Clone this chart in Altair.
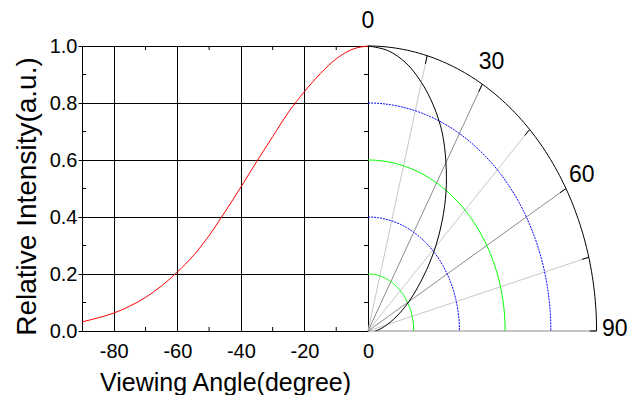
import altair as alt
import pandas as pd

# ---- data ----
angles = [-90, -85, -80, -75, -70, -65, -60, -55, -50, -45, -40, -35, -30, -25, -20, -15, -10, -5, 0]
intensity = [0.032, 0.046, 0.063, 0.087, 0.118, 0.158, 0.207, 0.264, 0.335, 0.418,
             0.505, 0.595, 0.682, 0.768, 0.840, 0.903, 0.955, 0.988, 1.000]
x_ticks = [-80, -60, -40, -20, 0]
y_ticks = [0.0, 0.2, 0.4, 0.6, 0.8, 1.0]
x_minor = [-70, -50, -30, -10]
y_minor = [0.1, 0.3, 0.5, 0.7, 0.9]
ring_green = [0.2, 0.6]
ring_blue = [0.4, 0.8]
ring_outer = [1.0]
spokes_light = [15, 45, 75]
spokes_dark = [30, 60, 90]
spoke_all = [15, 30, 45, 60, 75, 90]
polar_ticks = [0, 30, 60, 90]

FONT = "Liberation Sans"

curve = pd.DataFrame({"angle": angles, "I": intensity})

# ---------------- left (cartesian) panel ----------------
xs = alt.Scale(domain=[-90, 0], nice=False, zero=False)
ys = alt.Scale(domain=[0, 1], nice=False, zero=False)

red = alt.Chart(curve).mark_line(color="#ff0000", strokeWidth=1, interpolate="monotone").encode(
    x=alt.X("angle:Q", scale=xs,
            axis=alt.Axis(values=x_ticks, title="Viewing Angle(degree)", grid=True,
                          gridColor="black", gridOpacity=1, gridWidth=1,
                          domainColor="black", ticks=False,
                          labelExpr="'' + datum.value",
                          labelFont=FONT, labelFontSize=20, labelColor="black",
                          labelPadding=10, labelFlush=False,
                          titleFont=FONT, titleFontSize=25, titleFontWeight="normal",
                          titleColor="black", titlePadding=9)),
    y=alt.Y("I:Q", scale=ys,
            axis=alt.Axis(values=y_ticks, format=".1f", title="Relative Intensity(a.u.)",
                          grid=True, gridColor="black", gridOpacity=1, gridWidth=1,
                          domainColor="black", tickColor="black", tickSize=4,
                          labelFont=FONT, labelFontSize=20, labelColor="black",
                          labelPadding=1, labelFlush=False,
                          titleFont=FONT, titleFontSize=28, titleFontWeight="normal",
                          titleColor="black", titlePadding=8, titleY=150)),
)

ymin_df = pd.DataFrame({"v": y_minor})
xmin_df = pd.DataFrame({"u": x_minor})

tick_left = alt.Chart(ymin_df).mark_rule(color="black", x2Offset=4).encode(
    y=alt.Y("v:Q", scale=ys), x=alt.datum(-90), x2=alt.datum(-90))
tick_right = alt.Chart(ymin_df).mark_rule(color="black", x2Offset=-4).encode(
    y=alt.Y("v:Q", scale=ys), x=alt.datum(0), x2=alt.datum(0))
tick_top = alt.Chart(xmin_df).mark_rule(color="black", y2Offset=4).encode(
    x=alt.X("u:Q", scale=xs), y=alt.datum(1), y2=alt.datum(1))
tick_bottom = alt.Chart(xmin_df).mark_rule(color="black", y2Offset=-4).encode(
    x=alt.X("u:Q", scale=xs), y=alt.datum(0), y2=alt.datum(0))

left = alt.layer(red, tick_left, tick_right, tick_top, tick_bottom).properties(width=286, height=285)

# ---------------- right (polar) panel ----------------
pxs = alt.Scale(domain=[0, 1.05], nice=False, zero=False)
pys = alt.Scale(domain=[0, 1], nice=False, zero=False)


def ring_df(radii):
    return pd.DataFrame([{"r": r, "theta": t} for r in radii for t in range(0, 91)])


def polar_xy(chart, rexpr="datum.r"):
    return chart.transform_calculate(
        px=f"{rexpr}*sin(datum.theta*PI/180)",
        py=f"{rexpr}*cos(datum.theta*PI/180)")


def ring_layer(radii, **mk):
    return polar_xy(alt.Chart(ring_df(radii))).mark_line(strokeWidth=1, **mk).encode(
        x=alt.X("px:Q", scale=pxs, axis=None),
        y=alt.Y("py:Q", scale=pys, axis=None),
        detail="r:N", order="theta:Q")


g_rings = ring_layer(ring_green, color="#00ff00")
b_rings = ring_layer(ring_blue, color="#0000ff", strokeDash=[2, 1])
o_ring = ring_layer(ring_outer, color="black")


def spoke_layer(vals, color, r0, r1):
    return alt.Chart(pd.DataFrame({"theta": vals})).transform_calculate(
        ax=f"{r0}*sin(datum.theta*PI/180)", ay=f"{r0}*cos(datum.theta*PI/180)",
        bx=f"{r1}*sin(datum.theta*PI/180)", by=f"{r1}*cos(datum.theta*PI/180)",
    ).mark_rule(color=color, strokeWidth=1).encode(
        x=alt.X("ax:Q", scale=pxs, axis=None), y=alt.Y("ay:Q", scale=pys, axis=None),
        x2="bx:Q", y2="by:Q")


sp_light = spoke_layer(spokes_light, "#c8c8c8", 0, 1)
sp_dark = spoke_layer(spokes_dark, "#8c8c8c", 0, 1)
sp_ends = spoke_layer(spoke_all, "black", 0.97, 1)

black = alt.Chart(curve).transform_calculate(theta="-datum.angle").transform_calculate(
    px="datum.I*sin(datum.theta*PI/180)", py="datum.I*cos(datum.theta*PI/180)"
).mark_line(color="black", strokeWidth=1, interpolate="catmull-rom").encode(
    x=alt.X("px:Q", scale=pxs, axis=None), y=alt.Y("py:Q", scale=pys, axis=None),
    order="theta:Q")

labels = alt.Chart(pd.DataFrame({"theta": polar_ticks})).transform_calculate(
    px="1.08*sin(datum.theta*PI/180)", py="1.08*cos(datum.theta*PI/180)",
    label="toString(datum.theta)"
).mark_text(font=FONT, fontSize=23, color="black", align="center", baseline="middle", dy=-2).encode(
    x=alt.X("px:Q", scale=pxs, axis=None), y=alt.Y("py:Q", scale=pys, axis=None),
    text="label:N")

right = alt.layer(sp_light, sp_dark, g_rings, b_rings, o_ring, sp_ends, black, labels).properties(
    width=240, height=285)

chart = alt.hconcat(left, right, spacing=0, bounds="flush").configure_view(stroke=None).properties(
    padding={"left": 5, "top": 2, "right": 0, "bottom": 0}, background="white")

chart.save("out.html", embed_options={"renderer": "svg", "actions": False})
